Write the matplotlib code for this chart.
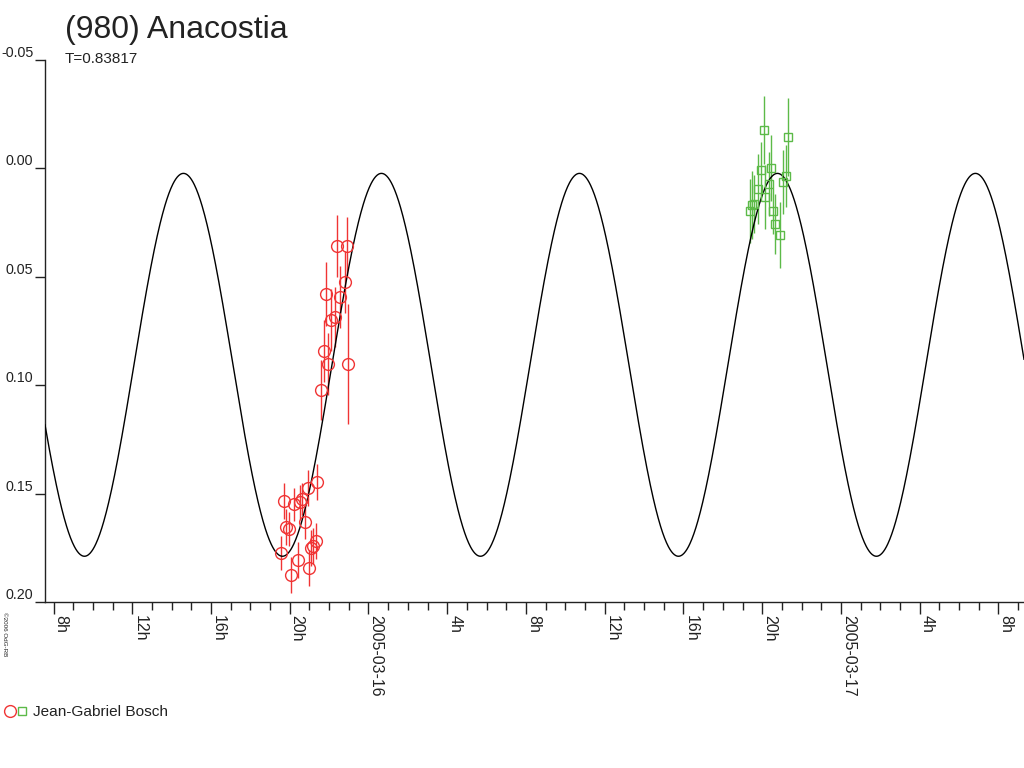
import numpy as np
import pandas as pd
import matplotlib
matplotlib.use("Agg")
import matplotlib.pyplot as plt
import matplotlib.dates as mdates
from matplotlib.legend_handler import HandlerTuple

plt.rcParams['font.family'] = ['Liberation Sans', 'DejaVu Sans']

# observations, Jean-Gabriel Bosch, night 1 (red circles)
red_time = ["2005-03-15 22:25", "2005-03-15 22:54", "2005-03-15 22:47", "2005-03-15 21:50",
            "2005-03-15 22:33", "2005-03-15 22:18", "2005-03-15 22:06", "2005-03-15 21:43",
            "2005-03-15 21:56", "2005-03-15 22:58", "2005-03-15 21:35", "2005-03-15 21:24",
            "2005-03-15 19:42", "2005-03-15 20:13", "2005-03-15 20:38", "2005-03-15 20:31",
            "2005-03-15 20:55", "2005-03-15 19:48", "2005-03-15 19:59", "2005-03-15 20:45",
            "2005-03-15 19:34", "2005-03-15 20:24", "2005-03-15 20:03", "2005-03-15 20:59",
            "2005-03-15 21:05", "2005-03-15 21:20", "2005-03-15 21:12"]
red_mag = [0.0357, 0.0360, 0.0526, 0.0581, 0.0594, 0.0685, 0.0700, 0.0840,
           0.0901, 0.0904, 0.1024, 0.1447, 0.1536, 0.1550, 0.1527, 0.1538,
           0.1476, 0.1653, 0.1663, 0.1633, 0.1775, 0.1807, 0.1875, 0.1844,
           0.1750, 0.1718, 0.1742]
red_err = [0.0143, 0.0138, 0.0143, 0.0148, 0.0143, 0.0138, 0.0143, 0.0143,
           0.0143, 0.0277, 0.0138, 0.0083, 0.0083, 0.0078, 0.0074, 0.0078,
           0.0083, 0.0083, 0.0078, 0.0078, 0.0078, 0.0083, 0.0083, 0.0083,
           0.0083, 0.0083, 0.0083]

# night 2 (green squares)
green_time = ["2005-03-16 20:05", "2005-03-16 21:19", "2005-03-16 19:57", "2005-03-16 20:27",
              "2005-03-16 21:13", "2005-03-16 21:03", "2005-03-16 20:22", "2005-03-16 19:47",
              "2005-03-16 20:10", "2005-03-16 19:34", "2005-03-16 19:29", "2005-03-16 19:24",
              "2005-03-16 20:32", "2005-03-16 20:39", "2005-03-16 20:54"]
green_mag = [-0.0178, -0.0143, 0.0006, 0.0000, 0.0036, 0.0063, 0.0072, 0.0094,
             0.0131, 0.0165, 0.0169, 0.0196, 0.0196, 0.0258, 0.0306]
green_err = [0.0157, 0.0180, 0.0129, 0.0152, 0.0143, 0.0148, 0.0148, 0.0161,
             0.0148, 0.0134, 0.0157, 0.0148, 0.0106, 0.0138, 0.0152]

# fitted lightcurve: period in days, double-peaked
period = 0.83817
epoch = "2005-03-15 14:36"
mag_mid = 0.0906
mag_amp = 0.0883

x_start = "2005-03-15 07:34"
x_end = "2005-03-17 09:18"

red_x = mdates.date2num(pd.to_datetime(red_time))
green_x = mdates.date2num(pd.to_datetime(green_time))
x0 = mdates.date2num(pd.Timestamp(x_start))
x1 = mdates.date2num(pd.Timestamp(x_end))
t0 = mdates.date2num(pd.Timestamp(epoch))

fig = plt.figure(figsize=(10.24, 7.68), dpi=100)
ax = fig.add_axes([45 / 1024, 1 - 602 / 768, (1024 - 45) / 1024, (602 - 60) / 768])

tt = np.linspace(x0, x1, 2000)
model = mag_mid - mag_amp * np.cos(2 * np.pi * (tt - t0) / (period / 2))
ax.plot(tt, model, color='black', lw=1.0, zorder=3)

red_c = '#f03434'
green_c = '#5cba48'
ax.errorbar(red_x, red_mag, yerr=red_err, fmt='none', ecolor=red_c, elinewidth=1.0, zorder=2)
ax.errorbar(green_x, green_mag, yerr=green_err, fmt='none', ecolor=green_c, elinewidth=1.0, zorder=2)
h_red, = ax.plot(red_x, red_mag, 'o', ms=8.5, mfc='none', mec=red_c, mew=1.0, zorder=4)
h_green, = ax.plot(green_x, green_mag, 's', ms=6, mfc='none', mec=green_c, mew=1.0, zorder=4)

ax.set_xlim(x0, x1)
ax.set_ylim(0.20, -0.05)
ax.set_yticks([-0.05, 0.00, 0.05, 0.10, 0.15, 0.20])
ax.set_yticklabels(['-0.05', '0.00', '0.05', '0.10', '0.15', '0.20'])

ax.xaxis.set_major_locator(mdates.HourLocator(byhour=range(0, 24, 4)))
ax.xaxis.set_minor_locator(mdates.HourLocator())


def hour_label(v, pos=None):
    d = mdates.num2date(v)
    if d.hour == 0:
        return d.strftime('%Y-%m-%d')
    return f"{d.hour}h"


ax.xaxis.set_major_formatter(plt.FuncFormatter(hour_label))

for s in ['top', 'right']:
    ax.spines[s].set_visible(False)
for s in ['left', 'bottom']:
    ax.spines[s].set_linewidth(1.0)
    ax.spines[s].set_color('#222222')

ax.tick_params(axis='y', direction='out', length=7, width=1.0, pad=1.5,
               labelsize=10.3, colors='#222222')
ax.tick_params(axis='x', which='major', direction='out', length=8.5, width=1.0,
               pad=1, labelsize=11.5, colors='#222222')
ax.tick_params(axis='x', which='minor', direction='out', length=5.5, width=1.0,
               colors='#222222')
for lbl in ax.get_yticklabels():
    lbl.set_va('bottom')
for lbl in ax.get_xticklabels():
    lbl.set_rotation(270)
    lbl.set_ha('left')
    lbl.set_va('top')

fig.text(65 / 1024, 1 - 38 / 768, "(980) Anacostia", fontsize=23, color='#222222', va='baseline')
fig.text(65 / 1024, 1 - 63 / 768, "T=0.83817", fontsize=11, color='#222222', va='baseline')
fig.text(2 / 1024, 1 - 612 / 768, "©2006 OdG-RB", fontsize=4.5, rotation=270,
         va='top', ha='left', color='#222222')

fig.legend(handles=[(h_red, h_green)], labels=['Jean-Gabriel Bosch'],
           handler_map={tuple: HandlerTuple(ndivide=None, pad=0.2)},
           loc='center left', bbox_to_anchor=(0.0, 1 - 712 / 768), frameon=False,
           fontsize=11.1, handlelength=1.3, handletextpad=0.45, borderaxespad=0,
           labelcolor='#222222')

fig.savefig('out.png', dpi=100)
